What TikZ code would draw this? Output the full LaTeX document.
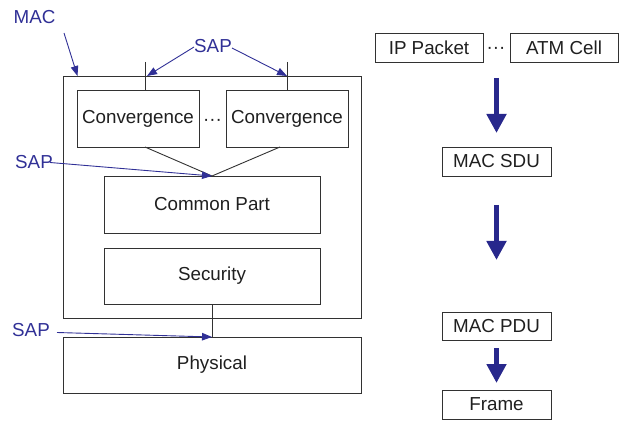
\documentclass[tikz,border=0pt]{standalone}
\usepackage{fontspec}
\setmainfont{Liberation Sans}
\usetikzlibrary{arrows.meta}
\definecolor{sapblue}{RGB}{48,48,150}
\definecolor{flowblue}{RGB}{40,40,140}
\definecolor{boxline}{RGB}{50,50,50}
\newcommand{\middots}{\char"00B7\char"00B7\char"00B7}
\begin{document}
\begin{tikzpicture}[x=1pt,y=-1pt,
  every node/.style={font=\fontsize{18.8}{20}\selectfont, text=black!88, inner sep=0pt, outer sep=0pt},
  layerbox/.style={draw=boxline, line width=0.9pt, minimum width=#1},
  saplabel/.style={text=sapblue},
  sapline/.style={draw=sapblue, line width=0.9pt, -{Triangle[length=10pt,width=7.5pt]}},
  flowarrow/.style={draw=flowblue, line width=5.5pt, -{Triangle[length=19pt,width=19pt]}},
  thinline/.style={draw=boxline, line width=0.9pt}]
\useasboundingbox (0,0) rectangle (624,422);

% MAC layer and its sublayers
\node[layerbox=298pt, minimum height=242pt] (mac) at (212,197) {};
\node[layerbox=122pt, minimum height=57pt] (conv1) at (138,118.5) {Convergence};
\node[layerbox=122pt, minimum height=57pt] (conv2) at (287,118.5) {Convergence};
\node (cdots) at (212.5,122) {\middots};
\node[layerbox=216pt, minimum height=57pt] (common) at (212,204.5) {Common Part};
\node[layerbox=216pt, minimum height=56pt] (security) at (212,276) {Security};
\node[layerbox=298pt, minimum height=56pt] (physical) at (212,365) {Physical};

% service access point stubs
\coordinate (s1) at (145,62);
\coordinate (s2) at (287,62);
\draw[thinline] (s1) -- (conv1.north -| s1);
\draw[thinline] (s2) -- (conv2.north -| s2);
\coordinate (c1) at (145,147);
\coordinate (c2) at (280,147);
\draw[thinline] (c1) -- (common.north) -- (c2);
\draw[thinline] (security.south) -- (physical.north);

% labels and pointers
\node[saplabel] (maclbl) at (34.5,17) {MAC};
\coordinate (macfrom) at (64,33);
\coordinate (macto) at (77.5,76);
\draw[sapline] (macfrom) -- (macto);

\node[saplabel] (saptop) at (213,46) {SAP};
\coordinate (saptl) at (194,47);
\coordinate (saptr) at (232,48);
\coordinate (tipl) at (147,76);
\coordinate (tipr) at (287,76);
\draw[sapline] (saptl) -- (tipl);
\draw[sapline] (saptr) -- (tipr);

\node[saplabel] (sapmid) at (34,162) {SAP};
\coordinate (sapmidfrom) at (50,162.5);
\draw[sapline] (sapmidfrom) -- (common.north);

\node[saplabel] (sapbot) at (31,330.5) {SAP};
\coordinate (sapbotfrom) at (57,332.5);
\draw[sapline] (sapbotfrom) -- (physical.north);

% data units
\node[layerbox=108pt, minimum height=29pt] (ip) at (429,47.5) {IP Packet};
\node[layerbox=108pt, minimum height=29pt] (atm) at (564,47.5) {ATM Cell};
\node (udots) at (496,50) {\middots};
\node[layerbox=109pt, minimum height=29pt] (sdu) at (496.5,161.5) {MAC SDU};
\node[layerbox=109pt, minimum height=28pt] (pdu) at (496.5,326) {MAC PDU};
\node[layerbox=109pt, minimum height=29pt] (frame) at (496.5,404.5) {Frame};

\coordinate (a1s) at (496.5,78);
\coordinate (a1e) at (496.5,133);
\coordinate (a2s) at (496.5,205);
\coordinate (a2e) at (496.5,260);
\coordinate (a3s) at (496.5,348);
\coordinate (a3e) at (496.5,383);
\draw[flowarrow] (a1s) -- (a1e);
\draw[flowarrow] (a2s) -- (a2e);
\draw[flowarrow] (a3s) -- (a3e);
\end{tikzpicture}
\end{document}
